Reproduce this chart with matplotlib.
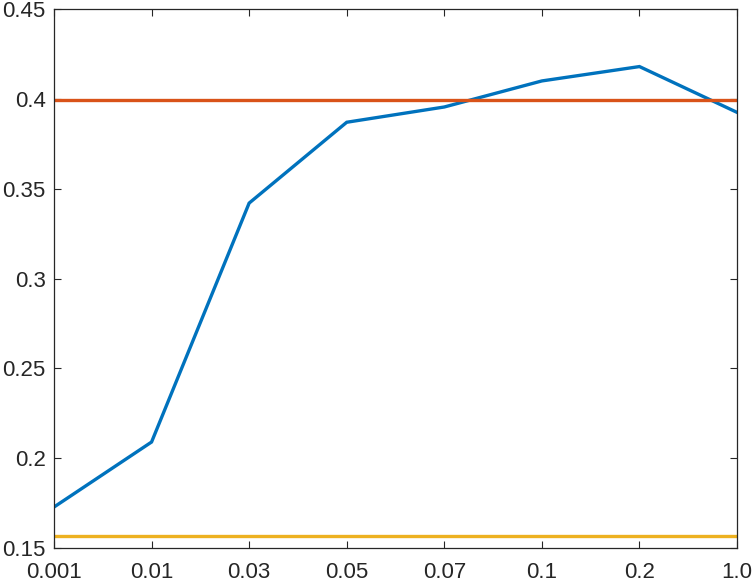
import matplotlib
matplotlib.use("Agg")
import matplotlib.pyplot as plt
import numpy as np

# data
x_labels = ["0.001", "0.01", "0.03", "0.05", "0.07", "0.1", "0.2", "1.0"]
curve = [0.1728, 0.209, 0.342, 0.387, 0.3955, 0.410, 0.418, 0.3925]
upper_ref = 0.3992
lower_ref = 0.1566

y_ticks = [0.15, 0.2, 0.25, 0.3, 0.35, 0.4, 0.45]

plt.rcParams["font.family"] = ["Liberation Sans", "DejaVu Sans"]

fig = plt.figure(figsize=(7.54, 5.82), dpi=100)
ax = fig.add_axes([0.0716, 0.0584, 0.9059, 0.926])

x = np.arange(1, len(x_labels) + 1)
ax.plot(x, curve, color="#0072BD", linewidth=2.4, solid_joinstyle="miter")
ax.plot(x, [upper_ref] * len(x), color="#D95319", linewidth=2.4)
ax.plot(x, [lower_ref] * len(x), color="#EDB120", linewidth=2.4)

ax.set_xlim(1, len(x_labels))
ax.set_ylim(0.15, 0.45)
ax.set_xticks(x)
ax.set_xticklabels(x_labels)
ax.set_yticks(y_ticks)
ax.set_yticklabels([f"{v:g}" for v in y_ticks])

ax.tick_params(direction="in", length=5, width=0.8, colors="#262626",
               labelsize=16, top=True, right=True, pad=6)
ax.tick_params(axis="x", pad=10)
for s in ax.spines.values():
    s.set_color("#262626")
    s.set_linewidth(0.9)

fig.savefig("out.png", dpi=100)
